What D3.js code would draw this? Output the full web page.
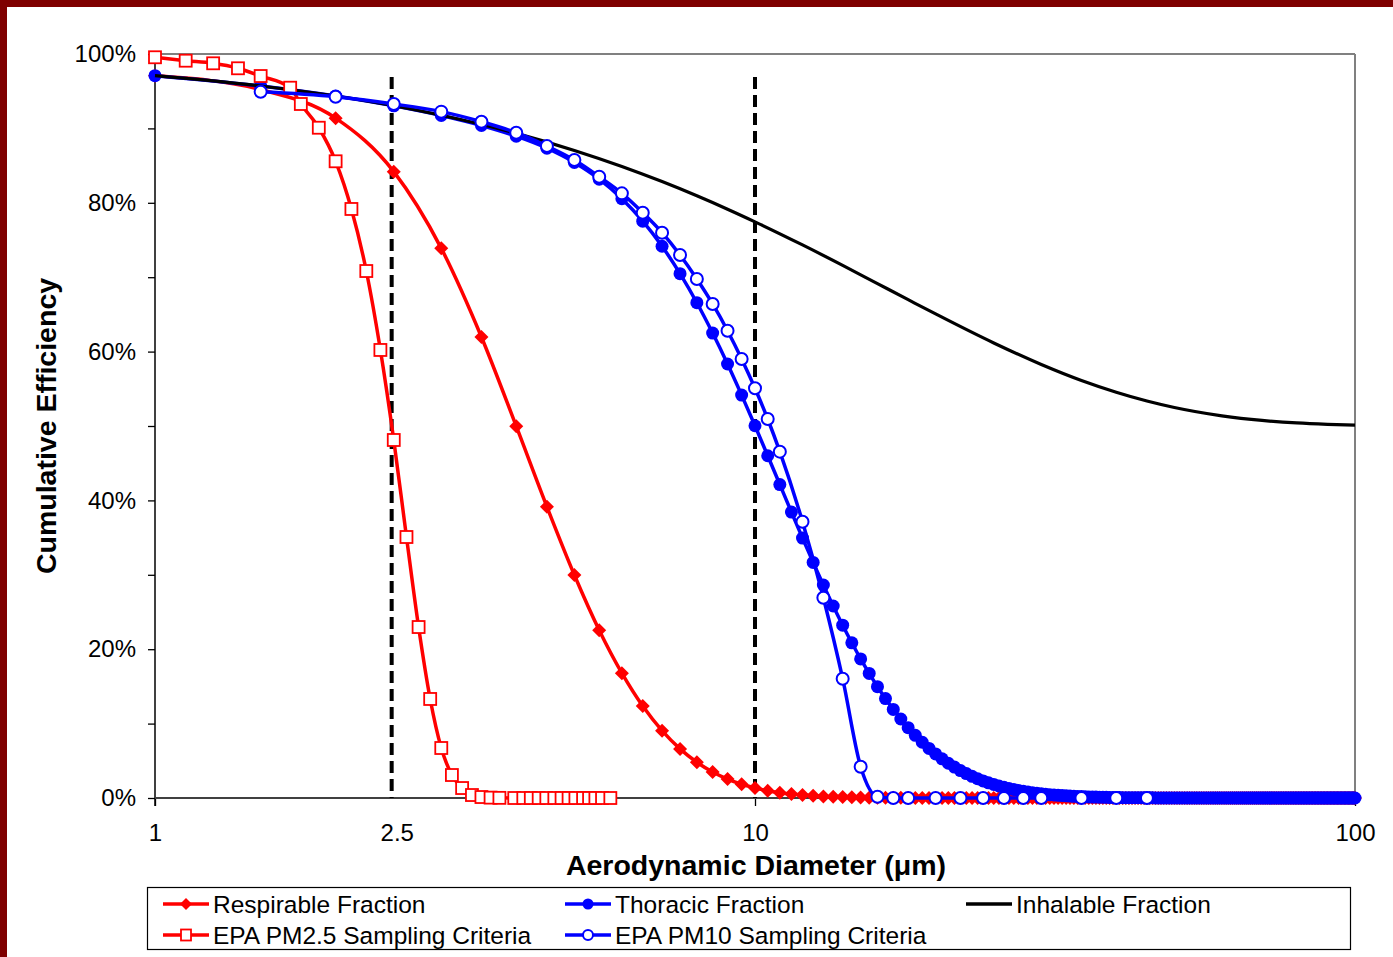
<!DOCTYPE html>
<html><head><meta charset="utf-8">
<script src="https://cdn.jsdelivr.net/npm/d3@7"></script>
<style>
body{margin:0;background:#fff;}
svg{display:block;}
text{font-family:"Liberation Sans",Arial,sans-serif;fill:#000;}
</style>
</head><body>
<svg id="chart" width="1393" height="957"></svg>
<script>
// ---------- DATA ----------
const sizes = [
  1,1.5,2,2.5,3,3.5,4,4.5,5,5.5,
  6,6.5,7,7.5,8,8.5,9,9.5,10,10.5,
  11,11.5,12,12.5,13,13.5,14,14.5,15,15.5,
  16,16.5,17,17.5,18,18.5,19,19.5,20,20.5,
  21,21.5,22,22.5,23,23.5,24,24.5,25,25.5,
  26,26.5,27,27.5,28,28.5,29,29.5,30,30.5,
  31,31.5,32,32.5,33,33.5,34,34.5,35,35.5,
  36,36.5,37,37.5,38,38.5,39,39.5,40,40.5,
  41,41.5,42,42.5,43,43.5,44,44.5,45,45.5,
  46,46.5,47,47.5,48,48.5,49,49.5,50,50.5,
  51,51.5,52,52.5,53,53.5,54,54.5,55,55.5,
  56,56.5,57,57.5,58,58.5,59,59.5,60,60.5,
  61,61.5,62,62.5,63,63.5,64,64.5,65,65.5,
  66,66.5,67,67.5,68,68.5,69,69.5,70,70.5,
  71,71.5,72,72.5,73,73.5,74,74.5,75,75.5,
  76,76.5,77,77.5,78,78.5,79,79.5,80,80.5,
  81,81.5,82,82.5,83,83.5,84,84.5,85,85.5,
  86,86.5,87,87.5,88,88.5,89,89.5,90,90.5,
  91,91.5,92,92.5,93,93.5,94,94.5,95,95.5,
  96,96.5,97,97.5,98,98.5,99,99.5,100
];
const respirable = [
  97.07,95.21,91.38,84.19,73.88,61.96,49.97,39.14,29.97,22.55,
  16.78,12.35,9.05,6.60,4.81,3.50,2.55,1.85,1.35,0.98,
  0.72,0.53,0.39,0.29,0.21,0.16,0.12,0.09,0.07,0.05,
  0.04,0.03,0.02,0.02,0.01,0.01,0.01,0,0,0,
  0,0,0,0,0,0,0,0,0,0,
  0,0,0,0,0,0,0,0,0,0,
  0,0,0,0,0,0,0,0,0,0,
  0,0,0,0,0,0,0,0,0,0,
  0,0,0,0,0,0,0,0,0,0,
  0,0,0,0,0,0,0,0,0,0,
  0,0,0,0,0,0,0,0,0,0,
  0,0,0,0,0,0,0,0,0,0,
  0,0,0,0,0,0,0,0,0,0,
  0,0,0,0,0,0,0,0,0,0,
  0,0,0,0,0,0,0,0,0,0,
  0,0,0,0,0,0,0,0,0,0,
  0,0,0,0,0,0,0,0,0,0,
  0,0,0,0,0,0,0,0,0,0,
  0,0,0,0,0,0,0,0,0,0,
  0,0,0,0,0,0,0,0,0
];
const thoracic = [
  97.09,95.70,94.35,93.03,91.73,90.39,88.95,87.33,85.42,83.18,
  80.55,77.53,74.16,70.48,66.57,62.49,58.33,54.15,50.03,46.00,
  42.13,38.43,34.94,31.67,28.63,25.81,23.23,20.86,18.69,16.74,
  14.96,13.36,11.91,10.62,9.45,8.42,7.49,6.66,5.92,5.26,
  4.67,4.15,3.69,3.28,2.91,2.59,2.30,2.04,1.82,1.61,
  1.44,1.28,1.14,1.01,0.90,0.80,0.72,0.64,0.57,0.51,
  0.45,0.40,0.36,0.32,0.29,0.26,0.23,0.21,0.19,0.17,
  0.15,0.13,0.12,0.11,0.10,0.09,0.08,0.07,0.06,0.06,
  0.05,0.05,0.04,0.04,0.03,0.03,0.03,0.02,0.02,0.02,
  0.02,0.01,0.01,0.01,0.01,0.01,0.01,0.01,0.01,0,
  0,0,0,0,0,0,0,0,0,0,
  0,0,0,0,0,0,0,0,0,0,
  0,0,0,0,0,0,0,0,0,0,
  0,0,0,0,0,0,0,0,0,0,
  0,0,0,0,0,0,0,0,0,0,
  0,0,0,0,0,0,0,0,0,0,
  0,0,0,0,0,0,0,0,0,0,
  0,0,0,0,0,0,0,0,0,0,
  0,0,0,0,0,0,0,0,0,0,
  0,0,0,0,0,0,0,0,0
];
const inhalableSizes = [1,1.5,2,2.5,3,4,5,6,7,8,9,10,12,14,16,18,20,25,30,35,40,45,50,60,70,80,90,100];
const inhalable = [97.09,95.70,94.35,93.04,91.76,89.33,87.04,84.88,82.85,80.94,79.14,77.44,74.34,71.59,69.14,66.98,65.06,61.16,58.27,56.12,54.54,53.36,52.49,51.37,50.75,50.41,50.23,50.12];

const pm25Sizes = [1,1.125,1.25,1.375,1.5,1.68,1.75,1.875,2,2.125,2.25,2.375,2.5,2.625,2.75,2.875,3,3.125,3.25,3.375,3.5,3.625,3.75,
  3.97,4.11,4.23,4.36,4.49,4.63,4.76,4.89,5.02,5.17,5.29,5.42,5.56,5.74];
const pm25 = [99.56,99.10,98.75,98.08,97.04,95.47,93.28,90.09,85.58,79.17,70.83,60.22,48.12,35.08,22.98,13.31,6.72,3.09,1.34,0.40,0.13,0.05,0.02,
  0,0,0,0,0,0,0,0,0,0,0,0,0,0];

const pm10Sizes = [1.5,2,2.5,3,3.5,4,4.5,5,5.5,6,6.5,7,7.5,8,8.5,9,9.5,10,10.5,11,12,13,14,15,16,17,18,20,22,24,26,28,30,35,40,45];
const pm10 = [94.93,94.26,93.28,92.25,90.90,89.42,87.63,85.75,83.51,81.27,78.67,75.98,72.98,69.76,66.40,62.81,59.01,55.07,50.94,46.55,37.14,26.92,16.03,4.21,0.17,0,0,0,0,0,0,0,0,0,0,0];

const yTicks = [0,10,20,30,40,50,60,70,80,90,100];
const yLabelTicks = [0,20,40,60,80,100];
const xMajorTicks = [1,10,100];
const xTickLabels = [1,2.5,10,100];
const cutPoints = [2.48,10];
const xTitle = "Aerodynamic Diameter (\u03bcm)";
const yTitle = "Cumulative Efficiency";
const legendItems = [
  {label:"Respirable Fraction", color:"#ff0000", marker:"diamond", col:0, row:0},
  {label:"Thoracic Fraction", color:"#0000ff", marker:"dot", col:1, row:0},
  {label:"Inhalable Fraction", color:"#000000", marker:"none", col:2, row:0},
  {label:"EPA PM2.5 Sampling Criteria", color:"#ff0000", marker:"square", col:0, row:1},
  {label:"EPA PM10 Sampling Criteria", color:"#0000ff", marker:"ring", col:1, row:1}
];

// ---------- CHART ----------
(function(){
const W = 1393, H = 957;
const FONT = '"Liberation Sans",Arial,sans-serif';
const svg = d3.select('#chart');
const pL = 155, pR = 1355, pT = 54, pB = 798;
const x = d3.scaleLog().domain([1,100]).range([pL,pR]);
const y = d3.scaleLinear().domain([0,100]).range([pB,pT]);

svg.append('rect').attr('width',W).attr('height',H).attr('fill','#fff');
svg.append('rect').attr('x',0).attr('y',0).attr('width',W).attr('height',7).attr('fill','#7f0000');
svg.append('rect').attr('x',0).attr('y',0).attr('width',7).attr('height',H).attr('fill','#7f0000');

svg.append('line').attr('x1',pL).attr('x2',pR).attr('y1',pT).attr('y2',pT).attr('stroke','#808080').attr('stroke-width',2);
svg.append('line').attr('x1',pR).attr('x2',pR).attr('y1',pT).attr('y2',pB+7).attr('stroke','#808080').attr('stroke-width',2);

const yAxis = d3.axisLeft(y).tickValues(yTicks).tickSize(7).tickPadding(12)
  .tickFormat(d => yLabelTicks.includes(d) ? d + '%' : '');
const gy = svg.append('g').attr('transform',`translate(${pL},0)`).call(yAxis);
gy.select('.domain').remove();
gy.selectAll('.tick line').attr('stroke','#000').attr('stroke-width',1.3);
gy.selectAll('.tick text').attr('font-size',24).attr('fill','#000').attr('font-family',FONT);
svg.append('line').attr('x1',pL).attr('x2',pL).attr('y1',pT).attr('y2',pB+8).attr('stroke','#000').attr('stroke-width',1.5);

const xAxis = d3.axisBottom(x).tickValues(xTickLabels).tickSize(8).tickPadding(18)
  .tickFormat(d => String(d));
const gx = svg.append('g').attr('transform',`translate(0,${pB})`).call(xAxis);
gx.select('.domain').remove();
gx.selectAll('.tick line').attr('stroke','#000').attr('stroke-width',1.3)
  .attr('y2', d => xMajorTicks.includes(d) ? 8 : 0);
gx.selectAll('.tick text').attr('font-size',24).attr('fill','#000').attr('font-family',FONT)
  .attr('dx', d => d === 2.5 ? 3 : 0);
svg.append('line').attr('x1',pL).attr('x2',pR).attr('y1',pB).attr('y2',pB).attr('stroke','#404040').attr('stroke-width',2);

svg.append('text').attr('x',756).attr('y',875).attr('text-anchor','middle')
  .attr('font-size',28.5).attr('font-weight','bold').text(xTitle);
svg.append('text').attr('transform','translate(56,426) rotate(-90)').attr('text-anchor','middle')
  .attr('font-size',28.5).attr('font-weight','bold').text(yTitle);

svg.selectAll('line.cut').data(cutPoints).enter().append('line').attr('class','cut')
  .attr('x1',d=>x(d)).attr('x2',d=>x(d)).attr('y1',77).attr('y2',pB)
  .attr('stroke','#000').attr('stroke-width',4).attr('stroke-dasharray','12,6');

const lineGen = d3.line().x(d=>x(d[0])).y(d=>y(d[1])).curve(d3.curveMonotoneX);
const zip = (a,b) => a.map((v,i)=>[v,b[i]]);

const respPts = zip(sizes, respirable);
const thorPts = zip(sizes, thoracic);
const inhPts = zip(inhalableSizes, inhalable);
const pm25Pts = zip(pm25Sizes, pm25);
const pm10Pts = zip(pm10Sizes, pm10);

function drawDiamond(g, pts, color, s){
  g.selectAll('path.m').data(pts).enter().append('path').attr('class','m')
    .attr('transform',d=>`translate(${x(d[0])},${y(d[1])})`)
    .attr('d',`M0,${-s}L${s},0L0,${s}L${-s},0Z`).attr('fill',color);
}

const gR = svg.append('g');
gR.append('path').attr('d',lineGen(respPts)).attr('fill','none').attr('stroke','#ff0000').attr('stroke-width',3.5);
drawDiamond(gR, respPts, '#ff0000', 7);

const gT = svg.append('g');
gT.append('path').attr('d',lineGen(thorPts)).attr('fill','none').attr('stroke','#0000ff').attr('stroke-width',3.5);
gT.selectAll('circle').data(thorPts).enter().append('circle')
  .attr('cx',d=>x(d[0])).attr('cy',d=>y(d[1])).attr('r',6.5).attr('fill','#0000ff');

svg.append('path').attr('d',lineGen(inhPts)).attr('fill','none').attr('stroke','#000').attr('stroke-width',3.2);

const gP = svg.append('g');
gP.append('path').attr('d',lineGen(pm25Pts)).attr('fill','none').attr('stroke','#ff0000').attr('stroke-width',3.5);
gP.selectAll('rect').data(pm25Pts).enter().append('rect')
  .attr('x',d=>x(d[0])-6).attr('y',d=>y(d[1])-6).attr('width',12).attr('height',12)
  .attr('fill','#fff').attr('stroke','#ff0000').attr('stroke-width',1.8);

const gM = svg.append('g');
gM.append('path').attr('d',lineGen(pm10Pts)).attr('fill','none').attr('stroke','#0000ff').attr('stroke-width',3.5);
gM.selectAll('circle').data(pm10Pts).enter().append('circle')
  .attr('cx',d=>x(d[0])).attr('cy',d=>y(d[1])).attr('r',6).attr('fill','#fff')
  .attr('stroke','#0000ff').attr('stroke-width',2);

svg.append('rect').attr('x',147.5).attr('y',887.5).attr('width',1203).attr('height',62)
  .attr('fill','#fff').attr('stroke','#000').attr('stroke-width',1.2);
const colX = [163,565,966], rowY = [904,935];
const lg = svg.selectAll('g.leg').data(legendItems).enter().append('g').attr('class','leg')
  .attr('transform',d=>`translate(${colX[d.col]},${rowY[d.row]})`);
lg.append('line').attr('x1',0).attr('x2',46).attr('y1',0).attr('y2',0)
  .attr('stroke',d=>d.color).attr('stroke-width',3.5);
lg.each(function(d){
  const g = d3.select(this);
  if(d.marker==='diamond') g.append('path').attr('d','M23,-6L29,0L23,6L17,0Z').attr('fill',d.color);
  if(d.marker==='dot') g.append('circle').attr('cx',23).attr('cy',0).attr('r',5.5).attr('fill',d.color);
  if(d.marker==='square') g.append('rect').attr('x',18).attr('y',-5.5).attr('width',10).attr('height',11).attr('fill','#fff').attr('stroke',d.color).attr('stroke-width',1.8);
  if(d.marker==='ring') g.append('circle').attr('cx',23).attr('cy',0).attr('r',5).attr('fill','#fff').attr('stroke',d.color).attr('stroke-width',2);
});
lg.append('text').attr('x',50).attr('y',0).attr('dy','0.35em').attr('font-size',24.5).text(d=>d.label);
})();
</script>
</body></html>
